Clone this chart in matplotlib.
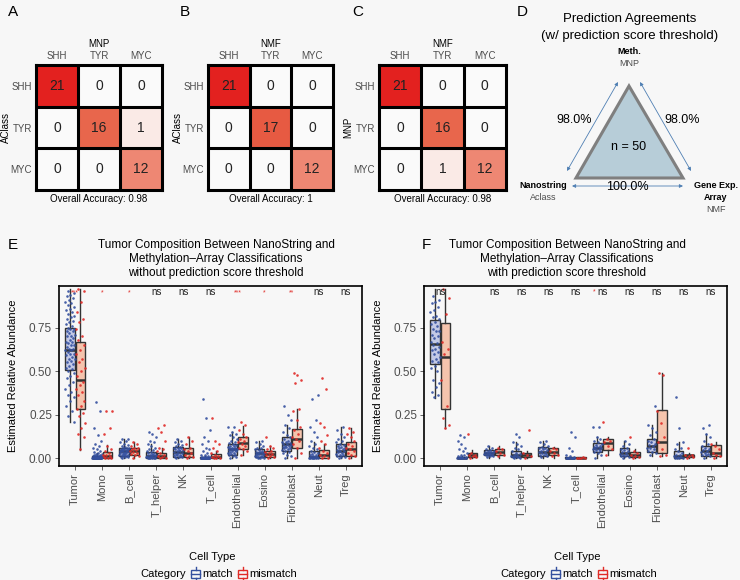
import numpy as np
import matplotlib.pyplot as plt
from matplotlib.colors import LinearSegmentedColormap
from matplotlib.patches import Polygon, Rectangle

plt.rcParams['font.family'] = ['Liberation Sans', 'DejaVu Sans']

# ---- confusion matrices (panels A-C) ----
classes = ['SHH', 'TYR', 'MYC']
mat_a = [[21, 0, 0], [0, 16, 1], [0, 0, 12]]
mat_b = [[21, 0, 0], [0, 17, 0], [0, 0, 12]]
mat_c = [[21, 0, 0], [0, 16, 0], [0, 1, 12]]
col_titles = ['MNP', 'NMF', 'NMF']
row_titles = ['AClass', 'AClass', 'MNP']
accuracies = ['0.98', '1', '0.98']

# ---- panel D ----
agree_left = '98.0%'
agree_right = '98.0%'
agree_bottom = '100.0%'
n_samples = 50

# ---- panels E / F ----
cell_types = ['Tumor', 'Mono', 'B_cell', 'T_helper', 'NK', 'T_cell',
              'Endothelial', 'Eosino', 'Fibroblast', 'Neut', 'Treg']
sig_e = ['***', '*', '*', 'ns', 'ns', 'ns', '***', '*', '**', 'ns', 'ns']
sig_f = ['ns', '', 'ns', 'ns', 'ns', 'ns', 'ns', 'ns', 'ns', 'ns', 'ns']

# box stats per cell type: (whislo, q1, med, q3, whishi)
e_match_box = [(0.21, 0.505, 0.62, 0.75, 0.97), (0, 0, 0.002, 0.012, 0.03), (0, 0.012, 0.04, 0.06, 0.11),
               (0, 0, 0.01, 0.035, 0.08), (0, 0.005, 0.035, 0.065, 0.11), (0, 0, 0, 0.005, 0.012),
               (0, 0.02, 0.05, 0.08, 0.15), (0, 0.005, 0.03, 0.05, 0.1), (0, 0.04, 0.08, 0.12, 0.19),
               (0, 0, 0.005, 0.04, 0.09), (0, 0.01, 0.04, 0.08, 0.18)]
e_mismatch_box = [(0.045, 0.28, 0.45, 0.665, 0.97), (0, 0, 0.01, 0.035, 0.075), (0, 0.015, 0.04, 0.06, 0.09),
                  (0, 0, 0.01, 0.03, 0.06), (0, 0.005, 0.03, 0.06, 0.12), (0, 0, 0.005, 0.025, 0.04),
                  (0.02, 0.05, 0.085, 0.12, 0.185), (0, 0.005, 0.025, 0.04, 0.07), (0, 0.06, 0.11, 0.165, 0.28),
                  (0, 0, 0.015, 0.045, 0.08), (0, 0.01, 0.05, 0.095, 0.17)]
f_match_box = [(0.344, 0.54, 0.654, 0.794, 0.97), (0, 0, 0.001, 0.005, 0.01), (0, 0.015, 0.03, 0.045, 0.07),
               (0, 0.005, 0.015, 0.04, 0.09), (0, 0.01, 0.035, 0.065, 0.1), (0, 0, 0, 0.004, 0.008),
               (0, 0.035, 0.06, 0.085, 0.12), (0, 0.01, 0.03, 0.055, 0.1), (0.01, 0.035, 0.07, 0.11, 0.19),
               (0, 0, 0.01, 0.04, 0.09), (0, 0.01, 0.04, 0.07, 0.14)]
f_mismatch_box = [(0.17, 0.283, 0.58, 0.779, 0.97), (0, 0.005, 0.015, 0.03, 0.045), (0, 0.015, 0.035, 0.05, 0.07),
                  (0, 0.005, 0.015, 0.03, 0.04), (0, 0.015, 0.035, 0.055, 0.065), (0, 0, 0.001, 0.004, 0.006),
                  (0.02, 0.045, 0.085, 0.11, 0.12), (0, 0.005, 0.02, 0.035, 0.05), (0.01, 0.03, 0.095, 0.275, 0.49),
                  (0, 0.005, 0.015, 0.02, 0.03), (0, 0.01, 0.03, 0.075, 0.09)]

# individual sample values
e_match_pts = [
    [0.96, 0.95, 0.94, 0.93, 0.92, 0.91, 0.9, 0.89, 0.88, 0.87, 0.86, 0.85, 0.84, 0.83, 0.82, 0.81, 0.8, 0.79,
     0.78, 0.77, 0.76, 0.75, 0.74, 0.74, 0.73, 0.73, 0.72, 0.71, 0.7, 0.7, 0.69, 0.68, 0.67, 0.67, 0.66, 0.65,
     0.65, 0.64, 0.63, 0.63, 0.62, 0.62, 0.61, 0.6, 0.6, 0.59, 0.58, 0.57, 0.57, 0.56, 0.55, 0.54, 0.53, 0.52,
     0.51, 0.5, 0.49, 0.47, 0.46, 0.44, 0.42, 0.4, 0.38, 0.36, 0.35, 0.33, 0.3, 0.27, 0.24, 0.21],
    [0.0, 0.0, 0.0, 0.0, 0.0, 0.0, 0.0, 0.0, 0.0, 0.0, 0.0, 0.0, 0.001, 0.002, 0.003, 0.004, 0.005, 0.006,
     0.008, 0.009, 0.01, 0.012, 0.014, 0.015, 0.018, 0.02, 0.022, 0.025, 0.03, 0.035, 0.04, 0.05, 0.06, 0.07,
     0.08, 0.1, 0.13, 0.17, 0.27, 0.32],
    [0.0, 0.003, 0.005, 0.008, 0.01, 0.012, 0.015, 0.018, 0.02, 0.02, 0.025, 0.028, 0.03, 0.03, 0.033, 0.035,
     0.038, 0.04, 0.04, 0.042, 0.045, 0.048, 0.05, 0.05, 0.052, 0.055, 0.058, 0.06, 0.065, 0.07, 0.075, 0.08,
     0.09, 0.1, 0.11, 0.11],
    [0.0, 0.0, 0.0, 0.0, 0.0, 0.002, 0.004, 0.005, 0.007, 0.01, 0.01, 0.012, 0.015, 0.018, 0.02, 0.025, 0.028,
     0.03, 0.035, 0.04, 0.045, 0.05, 0.06, 0.07, 0.08, 0.09, 0.1, 0.12, 0.14, 0.15],
    [0.0, 0.003, 0.005, 0.008, 0.01, 0.015, 0.018, 0.02, 0.025, 0.028, 0.03, 0.035, 0.038, 0.04, 0.045, 0.048,
     0.05, 0.055, 0.058, 0.06, 0.065, 0.07, 0.075, 0.08, 0.09, 0.1, 0.11],
    [0.0, 0.0, 0.0, 0.0, 0.0, 0.0, 0.0, 0.0, 0.0, 0.0, 0.0, 0.001, 0.002, 0.003, 0.004, 0.006, 0.008, 0.01,
     0.015, 0.02, 0.03, 0.04, 0.05, 0.06, 0.08, 0.1, 0.12, 0.16, 0.23, 0.34],
    [0.0, 0.005, 0.01, 0.015, 0.02, 0.025, 0.028, 0.03, 0.035, 0.038, 0.04, 0.045, 0.048, 0.05, 0.05, 0.052,
     0.055, 0.058, 0.06, 0.065, 0.068, 0.07, 0.075, 0.08, 0.085, 0.09, 0.1, 0.11, 0.12, 0.13, 0.14, 0.15,
     0.18, 0.18],
    [0.0, 0.0, 0.0, 0.003, 0.005, 0.008, 0.01, 0.012, 0.015, 0.02, 0.022, 0.025, 0.028, 0.03, 0.03, 0.033,
     0.035, 0.04, 0.045, 0.05, 0.055, 0.06, 0.07, 0.08, 0.09, 0.1],
    [0.0, 0.01, 0.02, 0.03, 0.035, 0.04, 0.045, 0.05, 0.055, 0.06, 0.062, 0.065, 0.068, 0.07, 0.075, 0.078,
     0.08, 0.085, 0.09, 0.095, 0.1, 0.11, 0.12, 0.13, 0.15, 0.17, 0.19, 0.22, 0.25, 0.3],
    [0.0, 0.0, 0.0, 0.0, 0.0, 0.0, 0.002, 0.004, 0.005, 0.008, 0.01, 0.015, 0.02, 0.025, 0.03, 0.035, 0.04,
     0.05, 0.06, 0.07, 0.08, 0.1, 0.12, 0.15, 0.18, 0.22, 0.34, 0.36],
    [0.0, 0.003, 0.005, 0.01, 0.015, 0.02, 0.025, 0.03, 0.035, 0.038, 0.04, 0.045, 0.05, 0.055, 0.06, 0.065,
     0.07, 0.075, 0.08, 0.09, 0.1, 0.11, 0.12, 0.14, 0.16, 0.18],
]
e_mismatch_pts = [
    [0.97, 0.96, 0.9, 0.84, 0.8, 0.78, 0.74, 0.7, 0.68, 0.65, 0.62, 0.6, 0.57, 0.55, 0.52, 0.5, 0.47, 0.44,
     0.42, 0.4, 0.38, 0.36, 0.33, 0.3, 0.28, 0.26, 0.24, 0.2, 0.17, 0.14, 0.12, 0.05],
    [0.0, 0.0, 0.0, 0.005, 0.01, 0.015, 0.02, 0.03, 0.04, 0.05, 0.07, 0.14, 0.17, 0.27, 0.27],
    [0.0, 0.01, 0.02, 0.025, 0.03, 0.035, 0.04, 0.045, 0.05, 0.055, 0.06, 0.07, 0.08, 0.09],
    [0.0, 0.0, 0.005, 0.01, 0.02, 0.03, 0.04, 0.05, 0.06, 0.1, 0.15, 0.17, 0.19],
    [0.0, 0.005, 0.01, 0.02, 0.03, 0.04, 0.05, 0.06, 0.08, 0.1, 0.12],
    [0.0, 0.0, 0.0, 0.005, 0.01, 0.02, 0.03, 0.04, 0.06, 0.08, 0.1, 0.23],
    [0.02, 0.04, 0.05, 0.06, 0.07, 0.08, 0.09, 0.1, 0.11, 0.12, 0.14, 0.16, 0.19, 0.21],
    [0.0, 0.005, 0.01, 0.02, 0.025, 0.03, 0.035, 0.04, 0.05, 0.06, 0.07, 0.12],
    [0.0, 0.03, 0.06, 0.08, 0.1, 0.11, 0.12, 0.14, 0.16, 0.18, 0.22, 0.27, 0.28, 0.43, 0.45, 0.48, 0.49],
    [0.0, 0.0, 0.01, 0.02, 0.03, 0.04, 0.06, 0.08, 0.1, 0.13, 0.18, 0.2, 0.4, 0.46],
    [0.0, 0.01, 0.02, 0.03, 0.04, 0.05, 0.06, 0.07, 0.08, 0.1, 0.12, 0.14, 0.15, 0.17],
]
f_match_pts = [
    [0.93, 0.91, 0.9, 0.89, 0.87, 0.85, 0.84, 0.82, 0.81, 0.8, 0.78, 0.77, 0.76, 0.74, 0.73, 0.73, 0.71,
     0.7, 0.69, 0.67, 0.66, 0.65, 0.64, 0.63, 0.62, 0.61, 0.6, 0.58, 0.57, 0.56, 0.55, 0.53, 0.52, 0.5,
     0.45, 0.43, 0.41, 0.38, 0.36, 0.35],
    [0.0, 0.0, 0.0, 0.0, 0.0, 0.0, 0.0, 0.002, 0.004, 0.005, 0.008, 0.01, 0.015, 0.02, 0.03, 0.04, 0.05, 0.06,
     0.08, 0.1, 0.12, 0.13],
    [0.005, 0.01, 0.012, 0.015, 0.018, 0.02, 0.022, 0.025, 0.028, 0.03, 0.03, 0.033, 0.035, 0.04, 0.042,
     0.045, 0.05, 0.06, 0.07],
    [0.0, 0.0, 0.003, 0.005, 0.008, 0.01, 0.012, 0.015, 0.02, 0.025, 0.03, 0.04, 0.05, 0.06, 0.07, 0.08,
     0.09, 0.12, 0.14],
    [0.005, 0.01, 0.015, 0.02, 0.025, 0.03, 0.033, 0.035, 0.04, 0.045, 0.05, 0.055, 0.06, 0.065, 0.07,
     0.08, 0.09, 0.1],
    [0.0, 0.0, 0.0, 0.0, 0.0, 0.0, 0.0, 0.001, 0.002, 0.005, 0.01, 0.02, 0.04, 0.06, 0.12, 0.15],
    [0.0, 0.02, 0.03, 0.035, 0.04, 0.045, 0.05, 0.052, 0.055, 0.06, 0.062, 0.065, 0.07, 0.075, 0.08, 0.09,
     0.1, 0.11, 0.12, 0.18, 0.18],
    [0.0, 0.005, 0.01, 0.012, 0.015, 0.02, 0.025, 0.03, 0.035, 0.04, 0.045, 0.05, 0.06, 0.07, 0.08, 0.1],
    [0.02, 0.03, 0.035, 0.04, 0.05, 0.055, 0.06, 0.07, 0.075, 0.08, 0.09, 0.1, 0.11, 0.13, 0.15, 0.17, 0.19,
     0.3],
    [0.0, 0.0, 0.0, 0.0, 0.003, 0.005, 0.01, 0.015, 0.02, 0.03, 0.04, 0.05, 0.06, 0.08, 0.09, 0.17, 0.35],
    [0.0, 0.01, 0.015, 0.02, 0.025, 0.03, 0.035, 0.04, 0.045, 0.05, 0.06, 0.07, 0.08, 0.1, 0.12, 0.14, 0.17,
     0.19],
]
f_mismatch_pts = [
    [0.97, 0.92, 0.83, 0.67, 0.63, 0.6, 0.45, 0.3, 0.23, 0.19, 0.17],
    [0.0, 0.005, 0.01, 0.015, 0.02, 0.03, 0.14],
    [0.01, 0.02, 0.03, 0.04, 0.05, 0.06],
    [0.0, 0.01, 0.02, 0.03, 0.16],
    [0.01, 0.02, 0.03, 0.04, 0.05, 0.06],
    [0.0, 0.0, 0.0, 0.002, 0.005],
    [0.02, 0.05, 0.07, 0.09, 0.1, 0.11, 0.21],
    [0.0, 0.005, 0.01, 0.02, 0.03, 0.04, 0.12],
    [0.01, 0.02, 0.05, 0.09, 0.12, 0.2, 0.27, 0.48, 0.49],
    [0.0, 0.005, 0.01, 0.015, 0.02, 0.06],
    [0.0, 0.01, 0.02, 0.03, 0.05, 0.07, 0.08],
]

BG = '#f7f7f7'
BLUE = '#34509f'
RED = '#e02b27'
BLUE_FILL = '#c3c9e6'
RED_FILL = '#f5c4ad'
GRAY_TXT = '#4d4d4d'

W, H = 740, 580
fig = plt.figure(figsize=(W / 100, H / 100), dpi=100, facecolor=BG)


def px_axes(x0, y0, x1, y1):
    return fig.add_axes([x0 / W, 1 - y1 / H, (x1 - x0) / W, (y1 - y0) / H])


# overlay for free text / diagram (pixel coordinates)
ov = fig.add_axes([0, 0, 1, 1], zorder=-1)
ov.set_xlim(0, W)
ov.set_ylim(H, 0)
ov.axis('off')

for lab, x, y in [('A', 8, 12), ('B', 180, 12), ('C', 352, 12), ('D', 517, 12),
                  ('E', 8, 245), ('F', 422, 245)]:
    ov.text(x, y, lab, fontsize=11, ha='left', va='center')

cmap = LinearSegmentedColormap.from_list(
    'conf', [(0, '#fafafa'), (0.05, '#fbe9e5'), (0.57, '#ef8874'), (0.78, '#e86449'), (1, '#e3211f')])


def draw_matrix(box, mat, col_title, row_title, acc):
    ax = px_axes(*box)
    ax.imshow(np.array(mat), cmap=cmap, vmin=0, vmax=21, extent=(0, 3, 3, 0), aspect='auto')
    for i in range(3):
        for j in range(3):
            ax.text(j + 0.5, i + 0.5, str(mat[i][j]), ha='center', va='center', fontsize=10, color='#222222')
    for k in (1, 2):
        ax.axhline(k, color='black', lw=2.2)
        ax.axvline(k, color='black', lw=2.2)
    for s in ax.spines.values():
        s.set_linewidth(2.2)
    ax.set_xticks([0.5, 1.5, 2.5])
    ax.set_yticks([0.5, 1.5, 2.5])
    ax.set_xticklabels(classes, fontsize=7, color=GRAY_TXT)
    ax.set_yticklabels(classes, fontsize=7, color=GRAY_TXT)
    ax.xaxis.tick_top()
    ax.tick_params(length=0, pad=3)
    ax.text(0.5, 1.17, col_title, transform=ax.transAxes, ha='center', va='center', fontsize=7)
    ax.text(-0.24, 0.5, row_title, transform=ax.transAxes, ha='center', va='center', fontsize=7, rotation=90)
    ax.text(0.5, -0.075, 'Overall Accuracy: ' + acc, transform=ax.transAxes, ha='center', va='center',
            fontsize=7)


draw_matrix((36, 65, 162, 190), mat_a, col_titles[0], row_titles[0], accuracies[0])
draw_matrix((208, 65, 333, 190), mat_b, col_titles[1], row_titles[1], accuracies[1])
draw_matrix((379, 65, 506, 190), mat_c, col_titles[2], row_titles[2], accuracies[2])

# ---- panel D diagram ----
ov.text(630, 19, 'Prediction Agreements', ha='center', va='center', fontsize=9.5)
ov.text(630, 36, '(w/ prediction score threshold)', ha='center', va='center', fontsize=9.5)
ov.text(629, 51, 'Meth.', ha='center', va='center', fontsize=6.5, fontweight='bold')
ov.text(629, 64, 'MNP', ha='center', va='center', fontsize=6.5, color=GRAY_TXT)
ov.add_patch(Polygon([(629, 86), (576, 178), (683, 178)], closed=True, facecolor='#b7cdd8',
                     edgecolor='#7f7f7f', lw=2.2))
ov.text(629, 147, 'n = %d' % n_samples, ha='center', va='center', fontsize=9)
arrow = dict(arrowstyle='<|-|>', color='#4f7fb3', lw=0.6, mutation_scale=5, shrinkA=0, shrinkB=0)
ov.annotate('', xy=(618, 82), xytext=(567, 171), arrowprops=arrow)
ov.annotate('', xy=(640, 82), xytext=(691, 171), arrowprops=arrow)
ov.annotate('', xy=(572, 186), xytext=(683, 186), arrowprops=arrow)
ov.text(574, 120, agree_left, ha='center', va='center', fontsize=9)
ov.text(682, 120, agree_right, ha='center', va='center', fontsize=9)
ov.text(627, 187, agree_bottom, ha='center', va='center', fontsize=9)
ov.text(543, 185, 'Nanostring', ha='center', va='center', fontsize=6.5, fontweight='bold')
ov.text(543, 197, 'Aclass', ha='center', va='center', fontsize=6.5, color=GRAY_TXT)
ov.text(716, 185, 'Gene Exp.', ha='center', va='center', fontsize=6.5, fontweight='bold')
ov.text(716, 197, 'Array', ha='center', va='center', fontsize=6.5, fontweight='bold')
ov.text(716, 209, 'NMF', ha='center', va='center', fontsize=6.5, color=GRAY_TXT)


def jitter(n, width):
    return ((np.arange(n) * 0.618034 + 0.3) % 1 - 0.5) * width


def draw_boxes(box, title_x, title3, match_box, mismatch_box, match_pts, mismatch_pts, sig, ylabel_x,
               legend_x, extra_star=False):
    ax = px_axes(*box)
    ax.set_facecolor(BG)
    pos = np.arange(1, len(cell_types) + 1)
    off = 0.19
    for stats_list, shift, fill in [(match_box, -off, BLUE_FILL), (mismatch_box, off, RED_FILL)]:
        stats = [dict(whislo=s[0], q1=s[1], med=s[2], q3=s[3], whishi=s[4], fliers=[]) for s in stats_list]
        ax.bxp(stats, positions=pos + shift, widths=0.36, patch_artist=True, showcaps=False,
               boxprops=dict(facecolor=fill, edgecolor='#333333', lw=1.0),
               medianprops=dict(color='#333333', lw=1.8),
               whiskerprops=dict(color='#333333', lw=1.0), zorder=2)
    for i, p in enumerate(pos):
        ym = np.array(match_pts[i])
        ax.scatter(p - off + jitter(len(ym), 0.36), ym, s=3.5, color=BLUE, lw=0, alpha=0.9, zorder=3)
        yr = np.array(mismatch_pts[i])
        ax.scatter(p + off + jitter(len(yr), 0.36), yr, s=3.5, color=RED, lw=0, alpha=0.9, zorder=3)
    for p, s in zip(pos, sig):
        if s == 'ns':
            ax.text(p, 0.955, s, ha='center', va='center', fontsize=7, color='#222222', zorder=4)
        elif s:
            ax.text(p, 0.95, s, ha='center', va='center', fontsize=5, color=RED, zorder=4)
    if extra_star:
        ax.text(pos[6] - 0.32, 0.955, '*', ha='center', va='center', fontsize=5, color=RED)
    ax.set_xlim(0.4, 11.6)
    ax.set_ylim(-0.046, 0.99)
    ax.set_yticks([0, 0.25, 0.5, 0.75])
    ax.set_yticklabels(['0.00', '0.25', '0.50', '0.75'], fontsize=8.5, color=GRAY_TXT)
    ax.set_xticks(pos)
    ax.set_xticklabels(cell_types, rotation=90, fontsize=8, color=GRAY_TXT)
    ax.tick_params(length=3, width=0.6, color=GRAY_TXT, pad=2)
    for s in ax.spines.values():
        s.set_linewidth(1.2)
    ax.set_ylabel('Estimated Relative Abundance', fontsize=8)
    ax.yaxis.set_label_coords((ylabel_x - box[0]) / (box[2] - box[0]), 0.5)
    for k, line in enumerate(['Tumor Composition Between NanoString and',
                              'Methylation\u2013Array Classifications', title3]):
        ov.text(title_x, 245 + 14 * k, line, ha='center', va='center', fontsize=8.5)
    cx = (box[0] + box[2]) / 2
    ov.text(cx + 2, 557, 'Cell Type', ha='center', va='center', fontsize=8)
    # legend row
    ov.text(legend_x, 574, 'Category', ha='left', va='center', fontsize=8)
    lx = legend_x + 51
    for col, lab, w in [(BLUE, 'match', 47), (RED, 'mismatch', 0)]:
        ov.add_patch(Rectangle((lx, 570), 9, 8, facecolor=BG, edgecolor=col, lw=1.0))
        ov.plot([lx, lx + 9], [574, 574], color=col, lw=1.0)
        ov.plot([lx + 4.5, lx + 4.5], [567, 570], color=col, lw=1.0)
        ov.plot([lx + 4.5, lx + 4.5], [578, 581], color=col, lw=1.0)
        ov.text(lx + 11, 574, lab, ha='left', va='center', fontsize=8)
        lx += w
    return ax


draw_boxes((59, 286, 362, 466), 216, 'without prediction score threshold', e_match_box, e_mismatch_box,
           e_match_pts, e_mismatch_pts, sig_e, 18, 140)
draw_boxes((424, 286, 727, 466), 567, 'with prediction score threshold', f_match_box, f_mismatch_box,
           f_match_pts, f_mismatch_pts, sig_f, 383, 500, extra_star=True)

fig.savefig('out.png', dpi=100, facecolor=BG)
